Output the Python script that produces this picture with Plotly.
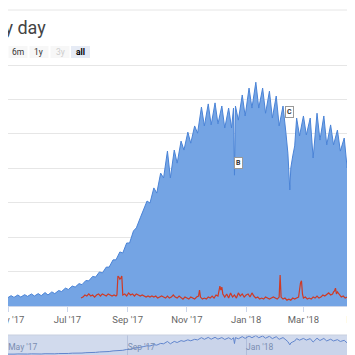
import numpy as np
import pandas as pd
import plotly.graph_objects as go

# ---------------- data ----------------
title_text = "Every day"
button_labels = ["6m", "1y", "3y", "all"]
button_state = ["normal", "normal", "disabled", "selected"]

blue_dates = [
    "2017-04-29",
    "2017-04-30", "2017-05-04", "2017-05-07", "2017-05-11", "2017-05-14", "2017-05-18",
    "2017-05-21", "2017-05-25", "2017-05-28", "2017-06-01", "2017-06-04", "2017-06-08",
    "2017-06-11", "2017-06-15", "2017-06-18", "2017-06-22", "2017-06-25", "2017-06-29",
    "2017-07-02", "2017-07-06", "2017-07-09", "2017-07-13", "2017-07-16", "2017-07-20",
    "2017-07-23", "2017-07-27", "2017-07-30", "2017-08-03", "2017-08-06", "2017-08-10",
    "2017-08-13", "2017-08-17", "2017-08-20", "2017-08-24", "2017-08-27", "2017-08-31",
    "2017-09-03", "2017-09-07", "2017-09-10", "2017-09-14", "2017-09-17", "2017-09-21",
    "2017-09-24", "2017-09-28", "2017-10-01", "2017-10-05", "2017-10-08", "2017-10-12",
    "2017-10-15", "2017-10-19", "2017-10-22", "2017-10-26", "2017-10-29", "2017-11-02",
    "2017-11-05", "2017-11-09", "2017-11-12", "2017-11-16", "2017-11-19", "2017-11-23",
    "2017-11-26", "2017-11-30", "2017-12-03", "2017-12-07", "2017-12-10", "2017-12-14",
    "2017-12-17", "2017-12-19", "2017-12-20", "2017-12-21",
    "2017-12-24", "2017-12-28", "2017-12-31", "2018-01-04", "2018-01-07", "2018-01-11",
    "2018-01-14", "2018-01-18", "2018-01-21", "2018-01-25", "2018-01-28", "2018-02-01",
    "2018-02-04", "2018-02-08", "2018-02-11", "2018-02-13", "2018-02-15", "2018-02-16",
    "2018-02-18", "2018-02-20", "2018-02-22",
    "2018-02-25", "2018-03-01", "2018-03-04", "2018-03-08", "2018-03-11", "2018-03-15",
    "2018-03-18", "2018-03-22", "2018-03-25", "2018-03-29", "2018-04-01", "2018-04-05",
    "2018-04-08", "2018-04-12", "2018-04-15", "2018-04-19", "2018-04-22", "2018-04-26",
    "2018-04-29", "2018-05-03",
]
blue_vals = [
    2600,
    2300, 3000, 2500, 3200, 2600, 3300,
    2800, 3500, 2900, 3600, 3000, 3900,
    3200, 4100, 3600, 4500, 4200, 5200,
    4800, 5800, 5500, 6500, 6200, 7400,
    7300, 8600, 8400, 9900, 9600, 11300,
    11300, 13400, 13400, 15700, 15400, 18300,
    18300, 21800, 22700, 25600, 27600, 30500,
    29900, 34300, 32800, 38600, 37200, 45000,
    37200, 45300, 41500, 47900, 45300, 50500,
    47300, 52300, 50200, 57800, 52300, 58700,
    52600, 59000, 52900, 58100, 51700, 57500,
    51700, 57500, 38000, 58100,
    54000, 61300, 55200, 63300, 57500, 65000,
    57500, 63300, 56000, 62400, 54600, 61000,
    52300, 58100, 50200, 44400, 33700, 40100,
    43600, 46500, 54600,
    49400, 55200, 49700, 54600, 43000, 56000,
    48200, 55200, 46800, 52600, 46800, 51100,
    45000, 48800, 40100, 45900, 39200, 43900,
    37200, 43000,
]

red_dates = [
    "2017-07-15", "2017-07-17", "2017-07-19", "2017-07-21", "2017-07-23", "2017-07-25",
    "2017-07-27", "2017-07-29", "2017-07-31", "2017-08-02", "2017-08-04", "2017-08-06",
    "2017-08-08", "2017-08-10", "2017-08-12", "2017-08-14", "2017-08-16", "2017-08-18",
    "2017-08-20", "2017-08-21", "2017-08-22", "2017-08-23", "2017-08-24", "2017-08-25",
    "2017-08-26", "2017-08-27", "2017-08-29", "2017-08-31", "2017-09-02", "2017-09-04",
    "2017-09-06", "2017-09-08", "2017-09-10", "2017-09-12", "2017-09-14", "2017-09-16",
    "2017-09-18", "2017-09-20", "2017-09-22", "2017-09-24", "2017-09-26", "2017-09-28",
    "2017-09-30", "2017-10-02", "2017-10-04", "2017-10-06", "2017-10-08", "2017-10-10",
    "2017-10-12", "2017-10-14", "2017-10-16", "2017-10-18", "2017-10-20", "2017-10-22",
    "2017-10-24", "2017-10-26", "2017-10-28", "2017-10-30", "2017-11-01", "2017-11-03",
    "2017-11-05", "2017-11-07", "2017-11-09", "2017-11-11", "2017-11-13", "2017-11-14",
    "2017-11-15", "2017-11-17", "2017-11-19", "2017-11-21", "2017-11-23", "2017-11-25",
    "2017-11-27", "2017-11-29", "2017-12-01", "2017-12-03", "2017-12-04", "2017-12-05",
    "2017-12-06", "2017-12-07", "2017-12-08", "2017-12-10", "2017-12-12", "2017-12-14",
    "2017-12-16", "2017-12-18", "2017-12-20", "2017-12-22", "2017-12-24", "2017-12-26",
    "2017-12-28", "2017-12-30", "2018-01-01", "2018-01-03", "2018-01-05", "2018-01-07",
    "2018-01-09", "2018-01-11", "2018-01-13", "2018-01-15", "2018-01-17", "2018-01-19",
    "2018-01-21", "2018-01-23", "2018-01-25", "2018-01-27", "2018-01-29", "2018-01-31",
    "2018-02-02", "2018-02-04", "2018-02-05", "2018-02-06", "2018-02-08", "2018-02-10",
    "2018-02-12", "2018-02-14", "2018-02-16", "2018-02-18", "2018-02-20", "2018-02-22",
    "2018-02-24", "2018-02-26", "2018-02-27", "2018-02-28", "2018-03-01", "2018-03-03",
    "2018-03-05", "2018-03-07", "2018-03-09", "2018-03-11", "2018-03-13", "2018-03-15",
    "2018-03-17", "2018-03-19", "2018-03-21", "2018-03-23", "2018-03-25", "2018-03-27",
    "2018-03-29", "2018-03-31", "2018-04-01", "2018-04-02", "2018-04-03", "2018-04-04",
    "2018-04-05", "2018-04-07", "2018-04-09", "2018-04-11", "2018-04-13", "2018-04-15",
    "2018-04-17", "2018-04-19", "2018-04-21", "2018-04-23", "2018-04-25", "2018-04-27",
    "2018-04-29", "2018-05-01", "2018-05-03",
]
red_vals = [
    2300, 2600, 3200, 2900, 3500, 2900,
    3200, 2600, 3200, 3500, 2900, 3500,
    3200, 2900, 3500, 3200, 2900, 3200,
    2900, 3200, 8700, 8400, 7800, 8100,
    8700, 3200, 3500, 2900, 3800, 3200,
    3500, 2900, 3500, 3200, 2900, 3200,
    2900, 2600, 2900, 2600, 2900, 2600,
    2900, 2300, 2600, 2900, 2600, 2300,
    2900, 2300, 2600, 3200, 2600, 2300,
    2900, 2300, 2000, 2600, 2300, 2000,
    2600, 2300, 2000, 2600, 2900, 4600,
    2600, 2000, 2300, 2000, 2600, 2300,
    2900, 2300, 3200, 2900, 4400, 5800,
    4600, 5500, 3500, 2600, 3500, 2300,
    3800, 2600, 3200, 2300, 3800, 2900,
    3500, 2600, 3200, 3500, 2600, 3800,
    2900, 2300, 2600, 2000, 2300, 2000,
    2600, 2300, 2000, 2300, 2600, 2300,
    2000, 2600, 9000, 2600, 2000, 2300,
    1700, 2000, 1700, 2300, 2000, 2300,
    2600, 6700, 7300, 3500, 2300, 2600,
    2000, 2300, 2000, 2600, 2300, 2900,
    2300, 2600, 3200, 2900, 3500, 3800,
    3200, 3500, 4100, 4400, 5200, 3500,
    4100, 3200, 2600, 2900, 2300, 2600,
    2000, 2600, 2300, 2900, 2300, 2600,
    2000, 2300, 2600,
]

flag_dates = ["2017-12-20", "2018-02-10"]
flag_titles = ["B", "C"]

x_range = ["2017-04-30 20:00", "2018-05-01 08:00"]

# ---------------- helpers ----------------
W, H = 355, 355


def px(x):
    return x / W


def py(y):
    return 1 - y / H


FONT = "Roboto, 'Open Sans', Arial, sans-serif"

# ---------------- figure ----------------
fig = go.Figure()

fig.add_trace(go.Scatter(
    x=blue_dates, y=blue_vals, mode="lines",
    line=dict(color="#4a83d6", width=1),
    fill="tozeroy", fillcolor="#74a4e4",
    xaxis="x", yaxis="y", hoverinfo="skip", showlegend=False,
))
fig.add_trace(go.Scatter(
    x=red_dates, y=red_vals, mode="lines",
    line=dict(color="#cf3a25", width=1.2),
    xaxis="x", yaxis="y", hoverinfo="skip", showlegend=False,
))
# navigator series
fig.add_trace(go.Scatter(
    x=blue_dates, y=blue_vals, mode="lines",
    line=dict(color="#5f86d2", width=1),
    fill="tozeroy", fillcolor="rgba(51,92,173,0.05)",
    xaxis="x2", yaxis="y2", hoverinfo="skip", showlegend=False,
))

# flags placed on the blue series
bd = pd.to_datetime(pd.Series(blue_dates)).astype("int64").to_numpy()
fd = pd.to_datetime(pd.Series(flag_dates)).astype("int64").to_numpy()
flag_y = np.interp(fd, bd, np.array(blue_vals, dtype=float))

annotations = []
for d, t, yv in zip(flag_dates, flag_titles, flag_y):
    annotations.append(dict(
        x=d, y=float(yv), xref="x", yref="y", text="<b>%s</b>" % t,
        showarrow=False, xanchor="left", yanchor="bottom", yshift=6,
        font=dict(family=FONT, size=7, color="#333"),
        bgcolor="white", bordercolor="#999", borderwidth=1, borderpad=1,
    ))

# title (left part is outside the window)
annotations.append(dict(
    x=px(40), y=py(19), xref="paper", yref="paper", text=title_text,
    showarrow=False, xanchor="right", yanchor="middle",
    font=dict(family=FONT, size=18, color="#444"),
))

shapes = []
# top container border
shapes.append(dict(type="line", xref="paper", yref="paper",
                   x0=0, x1=1, y0=py(2), y1=py(2),
                   line=dict(color="#e6e6e6", width=1)))

# range selector buttons
btn_centers = [10, 31, 52, 72.5]
for lab, st, cx in zip(button_labels, button_state, btn_centers):
    bg = "#e6ebf5" if st == "selected" else "#f7f7f7"
    shapes.append(dict(type="rect", xref="paper", yref="paper",
                       x0=px(cx - 9.5), x1=px(cx + 9.5), y0=py(50), y1=py(38),
                       fillcolor=bg, line=dict(width=0), layer="below"))
    col = "#cccccc" if st == "disabled" else ("#000" if st == "selected" else "#333")
    txt = "<b>%s</b>" % lab if st == "selected" else lab
    annotations.append(dict(
        x=px(cx), y=py(44), xref="paper", yref="paper", text=txt,
        showarrow=False, xanchor="center", yanchor="middle",
        font=dict(family=FONT, size=8.5, color=col),
    ))

# navigator mask + outline
nav_top, nav_bot = 327, 350
shapes.append(dict(type="rect", xref="paper", yref="paper",
                   x0=0, x1=1, y0=py(nav_bot), y1=py(nav_top),
                   fillcolor="rgba(102,133,194,0.3)", line=dict(width=0), layer="above"))
shapes.append(dict(type="line", xref="paper", yref="paper",
                   x0=0, x1=1, y0=py(nav_top), y1=py(nav_top),
                   line=dict(color="#c8cfdf", width=1)))

fig.update_layout(
    width=W, height=H,
    margin=dict(l=0, r=0, t=0, b=0, pad=0),
    paper_bgcolor="white", plot_bgcolor="white",
    font=dict(family=FONT, color="#666"),
    showlegend=False,
    xaxis=dict(
        type="date", domain=[0, 1], anchor="y", range=x_range,
        tick0="2017-01-01", dtick="M2", tickformat="%b '%y",
        tickfont=dict(family=FONT, size=9.5, color="#666"),
        ticks="outside", ticklen=5, tickcolor="#ccd6eb",
        showgrid=False, showline=True, linecolor="#ccd6eb",
        ticklabeloverflow="allow", automargin=False, fixedrange=True,
    ),
    yaxis=dict(
        domain=[(H - 298) / H, (H - 55.3) / H], anchor="x",
        range=[0, 70500], dtick=10000, tick0=0,
        showticklabels=False, showgrid=True, gridcolor="#e6e6e6",
        zeroline=False, automargin=False, fixedrange=True,
    ),
    xaxis2=dict(
        type="date", domain=[0, 1], anchor="y2", range=x_range,
        tick0="2017-01-01", dtick="M4", tickformat="%b '%y",
        ticklabelposition="inside right",
        tickfont=dict(family=FONT, size=8.5, color="#8592aa"),
        ticks="", showgrid=True, gridcolor="#d8dde8",
        showline=False, ticklabeloverflow="allow",
        automargin=False, fixedrange=True,
    ),
    yaxis2=dict(
        domain=[(H - nav_bot) / H, (H - nav_top) / H], anchor="x2",
        range=[-10400, 66700], showticklabels=False, showgrid=False,
        zeroline=False, automargin=False, fixedrange=True,
    ),
    annotations=annotations,
    shapes=shapes,
)

fig.write_html("out.html")
